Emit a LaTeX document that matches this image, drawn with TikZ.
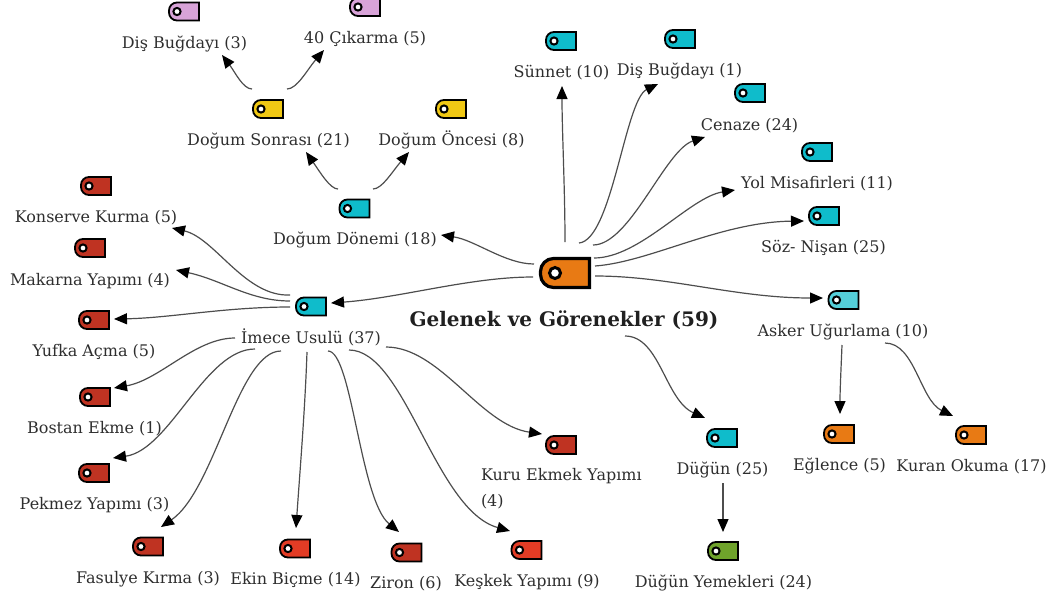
\documentclass[tikz,border=0pt]{standalone}
\usepackage{fontspec}
\setmainfont{DejaVu Serif}
\usetikzlibrary{arrows.meta}
\definecolor{tcyan}{HTML}{0FBCCB}
\definecolor{tcyanl}{HTML}{55D0DA}
\definecolor{torange}{HTML}{E87A14}
\definecolor{tred}{HTML}{BF3322}
\definecolor{tredb}{HTML}{E33C25}
\definecolor{tyellow}{HTML}{F0C814}
\definecolor{tplum}{HTML}{D8A3D8}
\definecolor{tgreen}{HTML}{6FA32B}
\definecolor{ink}{HTML}{2E2E2E}
\tikzset{
  tagbox/.style={minimum width=30pt,minimum height=19pt,inner sep=0pt,outer sep=0pt},
  lab/.style={font=\fontsize{16}{19}\selectfont,text=ink,inner sep=0pt,text height=17pt,text depth=4pt},
  conn/.style={draw=ink!85,line width=1.2pt,-{Triangle[length=13pt,width=11pt,color=black]}},
}
\newcommand{\tagn}[4]{% name, position, colour, unused
  \node[tagbox] (#1) at (#2) {};
  \begin{scope}[shift={(#1.center)}]
    \draw[line width=1.8pt,fill=#3,line join=miter] (15,-9) [rounded corners=8pt] -- (-15,-9) -- (-15,9) [sharp corners] -- (15,9) -- cycle;
    \draw[line width=2pt,fill=white] (-7,0) circle (3.6pt);
  \end{scope}}
\newcommand{\conn}[6]{\draw[conn] ([shift={(#2)}]#1.center) .. controls (#3) and (#4) .. ([shift={(#6)}]#5.center);}
\begin{document}
\begin{tikzpicture}[x=1pt,y=-1pt]
\useasboundingbox (0,0) rectangle (1050,598);
% root
\node[minimum width=50pt,minimum height=31pt,inner sep=0pt] (root) at (565,273) {};
\begin{scope}[shift={(root.center)}]
  \draw[line width=3.2pt,fill=torange] (24.5,-14.5) [rounded corners=13pt] -- (-24.5,-14.5) -- (-24.5,14.5) [sharp corners] -- (24.5,14.5) -- cycle;
  \draw[line width=3pt,fill=white] (-10,0) circle (5.5pt);
\end{scope}
\node[lab,font=\fontsize{20}{24}\selectfont\bfseries,text=ink!70!black] (rootl) at (564,320) {Gelenek ve Görenekler (59)};
% tags
\tagn{tSun}{561,41}{tcyan}{}
\tagn{tDisA}{680,39}{tcyan}{}
\tagn{tCen}{750,93}{tcyan}{}
\tagn{tYol}{817,152}{tcyan}{}
\tagn{tSoz}{824,216}{tcyan}{}
\tagn{tAsk}{843.5,300}{tcyanl}{}
\tagn{tDug}{722,438}{tcyan}{}
\tagn{tEgl}{839,434}{torange}{}
\tagn{tKur}{971,435}{torange}{}
\tagn{tYem}{723,551}{tgreen}{}
\tagn{tDon}{354.5,208.5}{tcyan}{}
\tagn{tImc}{311,306.5}{tcyan}{}
\tagn{tSon}{268,109}{tyellow}{}
\tagn{tOnc}{451,109}{tyellow}{}
\tagn{tDisB}{184,11.5}{tplum}{}
\tagn{tKirk}{365,7}{tplum}{}
\tagn{tKon}{96,186}{tred}{}
\tagn{tMak}{90,248}{tred}{}
\tagn{tYuf}{94,320}{tred}{}
\tagn{tBos}{95,397}{tred}{}
\tagn{tPek}{94,473}{tred}{}
\tagn{tFas}{148,546.5}{tred}{}
\tagn{tEki}{295,548.5}{tredb}{}
\tagn{tZir}{406.5,552.5}{tred}{}
\tagn{tKes}{526.5,550}{tredb}{}
\tagn{tKuru}{561,445}{tred}{}
% labels
\node[lab] (lSun) at (561.5,71) {Sünnet (10)};
\node[lab] (lDisA) at (679.5,69) {Diş Buğdayı (1)};
\node[lab] (lCen) at (749.5,124) {Cenaze (24)};
\node[lab] (lYol) at (817,182) {Yol Misafirleri (11)};
\node[lab] (lSoz) at (823.5,246) {Söz- Nişan (25)};
\node[lab] (lAsk) at (843,330) {Asker Uğurlama (10)};
\node[lab] (lDug) at (722.5,468) {Düğün (25)};
\node[lab] (lEgl) at (839.5,464) {Eğlence (5)};
\node[lab] (lKur) at (971.5,465) {Kuran Okuma (17)};
\node[lab] (lYem) at (723.5,581) {Düğün Yemekleri (24)};
\node[lab] (lDon) at (355,238) {Doğum Dönemi (18)};
\node[lab] (lImc) at (311,337) {İmece Usulü (37)};
\node[lab] (lSon) at (268.5,139) {Doğum Sonrası (21)};
\node[lab] (lOnc) at (451.5,139) {Doğum Öncesi (8)};
\node[lab] (lDisB) at (184.5,42) {Diş Buğdayı (3)};
\node[lab] (lKirk) at (365,37) {40 Çıkarma (5)};
\node[lab] (lKon) at (96,216) {Konserve Kurma (5)};
\node[lab] (lMak) at (90,279) {Makarna Yapımı (4)};
\node[lab] (lYuf) at (94,350) {Yufka Açma (5)};
\node[lab] (lBos) at (94.5,427) {Bostan Ekme (1)};
\node[lab] (lPek) at (94.5,503) {Pekmez Yapımı (3)};
\node[lab] (lFas) at (148,577) {Fasulye Kırma (3)};
\node[lab] (lEki) at (295.5,578) {Ekin Biçme (14)};
\node[lab] (lZir) at (406,582) {Ziron (6)};
\node[lab] (lKes) at (527,580) {Keşkek Yapımı (9)};
\node[lab,text height=,text depth=,align=left,text width=170pt,font=\fontsize{16}{26}\selectfont] (lKuru) at (566,489) {Kuru Ekmek Yapımı\\(4)};
% connectors
\conn{root}{0,-31}{565,190}{562,130}{lSun}{0.5,15}
\conn{root}{14,-30}{612,240}{625,100}{lDisA}{-21.5,15}
\conn{root}{28,-28}{630,245}{665,150}{lCen}{-44.5,13}
\conn{root}{29,-15}{640,258}{690,197}{lYol}{-82,8}
\conn{root}{30,-7}{650,262}{720,222}{tSoz}{-20,5}
\conn{root}{30,3}{670,276}{735,298}{tAsk}{-20.5,-2}
\conn{rootl}{61,16}{660,336}{665,400}{tDug}{-17,-20}
\conn{root}{-31,-9}{505,264}{475,240}{lDon}{86,-3}
\conn{root}{-32,4}{470,277}{400,298}{tImc}{20,-3.5}
\conn{tDon}{-16.5,-19.5}{330,189}{320,172}{lSon}{37.5,13}
\conn{tDon}{18.5,-19.5}{382,189}{392,172}{lOnc}{-42.5,13}
\conn{tSon}{-16,-20}{243,89}{235,72}{lDisB}{37.5,13}
\conn{tSon}{19,-20}{297,89}{307,70}{lKirk}{-41,13}
\conn{tImc}{-21,-11.5}{245,297}{215,238}{lKon}{76,12}
\conn{tImc}{-21,-5.5}{250,301}{222,280}{lMak}{86,-9}
\conn{tImc}{-21,0.5}{225,307}{170,318}{tYuf}{20,-1}
\conn{lImc}{-76,1}{195,338}{160,380}{tBos}{19,-9}
\conn{lImc}{-56,12}{205,349}{170,450}{tPek}{19,-15}
\conn{lImc}{-30,14}{238,351}{215,490}{tFas}{13,-19.5}
\conn{lImc}{-4,15}{305,410}{300,470}{tEki}{1,-20.5}
\conn{lImc}{17,14}{352,351}{360,500}{tZir}{-7.5,-20.5}
\conn{lImc}{38,13}{405,350}{435,510}{tKes}{-16.5,-19}
\conn{lImc}{75,10}{440,347}{480,425}{tKuru}{-19,-11}
\conn{lAsk}{-1,15}{841,370}{840,390}{tEgl}{1,-20}
\conn{lAsk}{42,13}{915,343}{920,400}{tKur}{-18,-19}
\conn{lDug}{0.5,15}{723,500}{723,515}{tYem}{0,-19}
\end{tikzpicture}
\end{document}
